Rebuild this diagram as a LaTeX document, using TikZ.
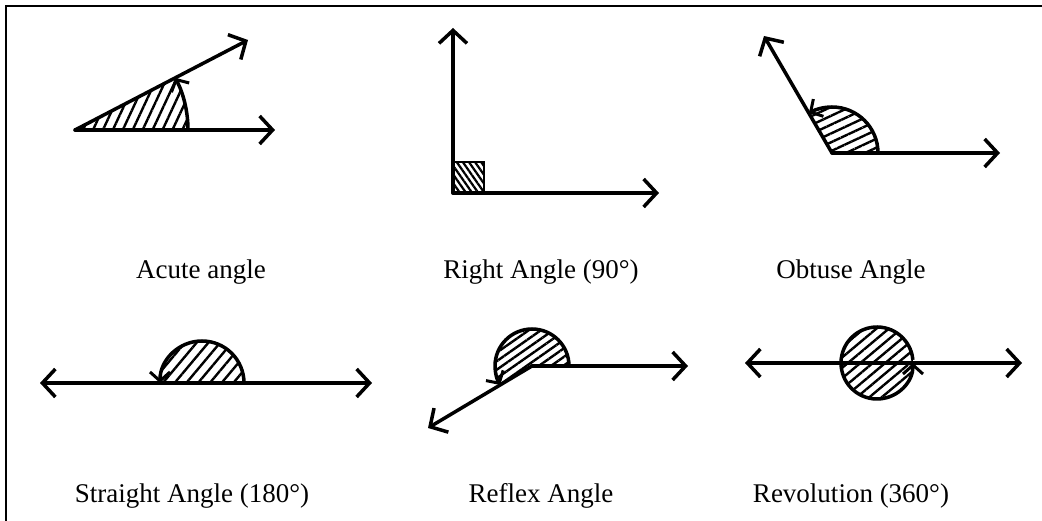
\documentclass[tikz,border=0pt]{standalone}
\usepackage{fontspec}
\setmainfont{Liberation Serif}
\usetikzlibrary{arrows.meta,patterns.meta}
\tikzset{
  ray/.style={line width=3.5pt, line cap=round, -{Straight Barb[length=13pt,width=28pt,line width=3.5pt]}},
  dray/.style={line width=3.5pt, line cap=round, {Straight Barb[length=13pt,width=28pt,line width=3.5pt]}-{Straight Barb[length=13pt,width=28pt,line width=3.5pt]}},
  arcarrow/.style={line width=3.5pt, -{Straight Barb[length=9pt,width=20pt,line width=3pt]}},
  lbl/.style={anchor=base, font=\fontsize{27}{33}\selectfont},
  frame/.style={line width=2.5pt},
  hatch/.style={line width=2.4pt}
}
\begin{document}
\begin{tikzpicture}[x=1pt,y=1pt]
\useasboundingbox (0,0) rectangle (1042,521);
\draw[frame] (6,0) -- (6,515) -- (1042,515);

% Acute
\coordinate (aV) at (75,391);
\coordinate (aH) at (275,391);
\coordinate (aR) at (248,481);
\fill[pattern={Lines[angle=65,distance=9pt,line width=2.4pt]}] (aV) -- ++(0:113) arc[start angle=0,end angle=27.5,radius=113] -- cycle;
\draw[arcarrow] (aV) ++(0:113) arc[start angle=0,end angle=27.5,radius=113];
\draw[ray] (aV) -- (aH);
\draw[ray] (aV) -- (aR);
\node[lbl] (acute) at (201,242) {Acute angle};

% Right
\coordinate (rV) at (453,328);
\coordinate (rU) at (453,493);
\coordinate (rH) at (659,328);
\fill[pattern={Lines[angle=-55,distance=5pt,line width=2.2pt]}] (rV) rectangle ++(31,31);
\draw[line width=2.5pt] (rV) rectangle ++(31,31);
\draw[ray] (rV) -- (rU);
\draw[ray] (rV) -- (rH);
\node[lbl] (right) at (541,242) {Right Angle (90°)};

% Obtuse
\coordinate (oV) at (832,368);
\coordinate (oH) at (1000,368);
\coordinate (oR) at (764,485);
\fill[pattern={Lines[angle=25,distance=8pt,line width=2.4pt]}] (oV) -- ++(0:46) arc[start angle=0,end angle=120.2,radius=46] -- cycle;
\draw[arcarrow] (oV) ++(0:46) arc[start angle=0,end angle=120.2,radius=46];
\draw[ray] (oV) -- (oH);
\draw[ray] (oV) -- (oR);
\node[lbl] (obtuse) at (851,242) {Obtuse Angle};

% Straight
\coordinate (sC) at (202,138);
\coordinate (sL) at (40,138);
\coordinate (sR) at (372,138);
\fill[pattern={Lines[angle=50,distance=9pt,line width=2.4pt]}] (sC) -- ++(0:42) arc[start angle=0,end angle=180,radius=42] -- cycle;
\draw[arcarrow] (sC) ++(0:42) arc[start angle=0,end angle=180,radius=42];
\draw[dray] (sL) -- (sR);
\node[lbl] (straight) at (192,18) {Straight Angle (180°)};

% Reflex
\coordinate (fV) at (532,155);
\coordinate (fH) at (688,155);
\coordinate (fR) at (428,93);
\fill[pattern={Lines[angle=35,distance=7pt,line width=2.4pt]}] (fV) -- ++(0:37) arc[start angle=0,end angle=210.8,radius=37] -- cycle;
\draw[arcarrow] (fV) ++(0:37) arc[start angle=0,end angle=210.8,radius=37];
\draw[ray] (fV) -- (fH);
\draw[ray] (fV) -- (fR);
\node[lbl] (reflex) at (541,18) {Reflex Angle};

% Revolution
\coordinate (vC) at (877,158);
\coordinate (vL) at (745,158);
\coordinate (vR) at (1022,158);
\fill[pattern={Lines[angle=40,distance=8pt,line width=2.4pt]}] (vC) circle[radius=36];
\draw[arcarrow] (vC) ++(5:36) arc[start angle=5,end angle=360,radius=36];
\draw[dray] (vL) -- (vR);
\node[lbl] (revolution) at (851,18) {Revolution (360°)};
\end{tikzpicture}
\end{document}
